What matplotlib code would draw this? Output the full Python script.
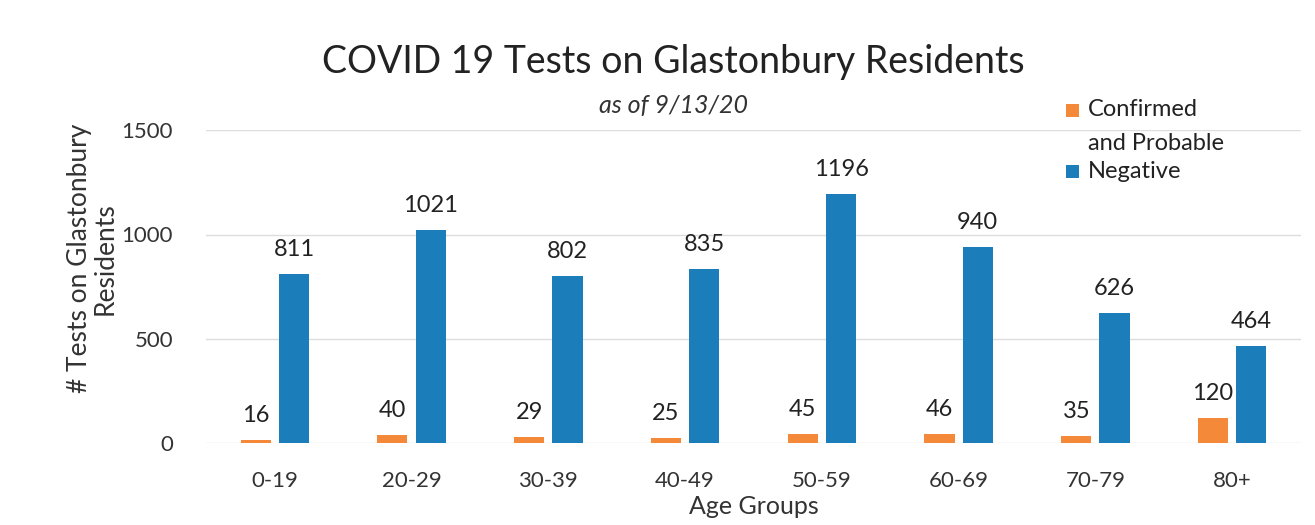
import numpy as np
import matplotlib
matplotlib.use("Agg")
import matplotlib.pyplot as plt
import matplotlib.patches as mpatches

plt.rcParams['font.family'] = ['Lato', 'DejaVu Sans']

age_groups = ["0-19", "20-29", "30-39", "40-49", "50-59", "60-69", "70-79", "80+"]
confirmed = [16, 40, 29, 25, 45, 46, 35, 120]
negative = [811, 1021, 802, 835, 1196, 940, 626, 464]

ORANGE = "#f4893a"
BLUE = "#1b7db9"
W, H = 1315, 525

fig = plt.figure(figsize=(13.15, 5.25), dpi=100)
ax = fig.add_axes([0.157, 0.156, 0.832, 0.596])

x = np.arange(len(age_groups))
w = 0.22
off = 0.14
b1 = ax.bar(x - off, confirmed, width=w, color=ORANGE)
b2 = ax.bar(x + off, negative, width=w, color=BLUE)

# value labels above bars
for bars, vals in ((b1, confirmed), (b2, negative)):
    for r, v in zip(bars, vals):
        ax.annotate(str(v), (r.get_x() + r.get_width() / 2, r.get_height()),
                    xytext=(0, 10), textcoords="offset points",
                    ha="center", va="bottom", fontsize=17, color="#222222")

ax.set_xlim(-0.5, len(age_groups) - 0.5)
ax.set_ylim(0, 1500)
ax.set_yticks([0, 500, 1000, 1500])
ax.set_xticks(x)
ax.set_xticklabels(age_groups)
ax.tick_params(axis="both", length=0, labelsize=16, colors="#333333")
ax.tick_params(axis="x", pad=20)
ax.tick_params(axis="y", pad=24)
ax.yaxis.grid(True, color="#dddddd", linewidth=1)
ax.set_axisbelow(True)
for s in ax.spines.values():
    s.set_visible(False)

ax.set_xlabel("Age Groups", fontsize=18, color="#333333", labelpad=3)
ax.set_ylabel("# Tests on Glastonbury\nResidents", fontsize=19, color="#333333",
              linespacing=1.05)
ax.yaxis.set_label_coords(-0.081, 0.59)

fig.text(0.512, 0.882, "COVID 19 Tests on Glastonbury Residents",
         ha="center", va="center", fontsize=27, color="#222222")
fig.text(0.512, 0.80, "as of 9/13/20", ha="center", va="center",
         fontsize=18, style="italic", color="#333333")

# legend drawn by hand so the swatch sits on the first line of the label
legend_items = [("Confirmed", ORANGE, 110), ("and Probable", None, 143),
                ("Negative", BLUE, 171)]
for label, col, ypx in legend_items:
    if col is not None:
        fig.patches.append(mpatches.Rectangle(
            (1066 / W, 1 - (ypx + 7) / H), 13 / W, 13 / H,
            transform=fig.transFigure, facecolor=col, edgecolor="none"))
    fig.text(1088 / W, 1 - ypx / H, label, ha="left", va="center",
             fontsize=17, color="#222222")

fig.savefig("out.png", dpi=100)
